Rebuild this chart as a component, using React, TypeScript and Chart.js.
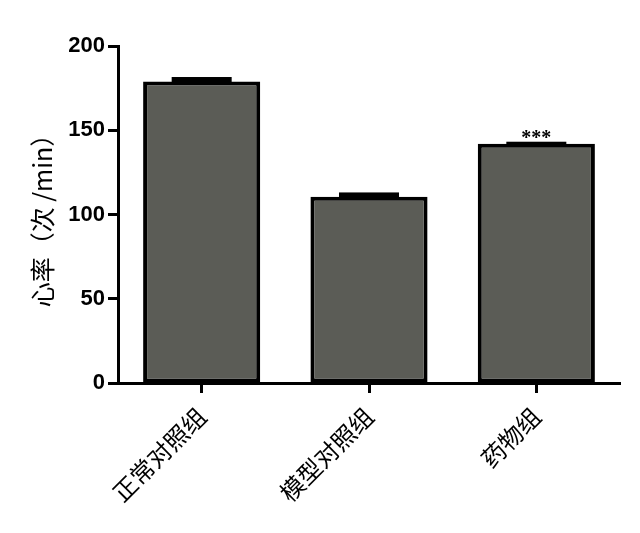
import React, { useEffect, useRef } from "react";
import { Chart, registerables } from "chart.js";

Chart.register(...registerables);

const categories = ["正常对照组", "模型对照组", "药物组"];
const heartRate = [179, 110.5, 142];
const errors = [2, 2, 0.6];
const marks = ["", "", "***"];
const yTicks = [0, 50, 100, 150, 200];

const errorBarPlugin = {
  id: "errorBars",
  afterDatasetsDraw(chart: any) {
    const ctx = chart.ctx;
    const meta = chart.getDatasetMeta(0);
    const yScale = chart.scales.y;
    ctx.save();
    meta.data.forEach((bar: any, i: number) => {
      const v = heartRate[i];
      const e = errors[i];
      const x = bar.x;
      const y0 = yScale.getPixelForValue(v);
      const y1 = yScale.getPixelForValue(v + e);
      ctx.fillStyle = "#000";
      ctx.fillRect(x - 30, y1 - 1, 60, y0 - y1 + 3);
      if (marks[i]) {
        ctx.fillStyle = "#000";
        ctx.font = "bold 20px 'Liberation Serif'";
        ctx.textAlign = "center";
        ctx.textBaseline = "alphabetic";
        ctx.fillText(marks[i], x, y1 + 1);
      }
    });
    ctx.restore();
  },
};

export default function App() {
  const ref = useRef<HTMLCanvasElement | null>(null);
  useEffect(() => {
    if (!ref.current) return;
    const chart = new Chart(ref.current, {
      type: "bar",
      data: {
        labels: categories,
        datasets: [
          {
            data: heartRate,
            backgroundColor: "#5b5c56",
            borderColor: "#000",
            borderWidth: 4,
            borderSkipped: false,
            barPercentage: 0.7,
            categoryPercentage: 1,
          },
        ],
      },
      options: {
        responsive: false,
        animation: false,
        layout: { padding: { top: 46, right: 20, left: 0, bottom: 0 } },
        plugins: { legend: { display: false }, tooltip: { enabled: false } },
        scales: {
          x: {
            offset: true,
            grid: {
              display: true,
              offset: false,
              drawOnChartArea: false,
              drawTicks: true,
              tickLength: 10,
              tickWidth: 3,
              tickColor: "#000",
            },
            border: { display: true, width: 3, color: "#000" },
            ticks: {
              minRotation: 45,
              maxRotation: 45,
              color: "#000",
              padding: 9,
              font: { family: "'Noto Sans CJK SC'", size: 24 },
            },
            afterFit: (s: any) => {
              s.height = 150;
            },
          },
          y: {
            min: 0,
            max: 200,
            afterBuildTicks: (s: any) => {
              s.ticks = yTicks.map((v) => ({ value: v }));
            },
            grid: {
              display: true,
              drawOnChartArea: false,
              drawTicks: true,
              tickLength: 10,
              tickWidth: 3,
              tickColor: "#000",
            },
            border: { display: true, width: 3, color: "#000" },
            ticks: {
              color: "#000",
              padding: 3,
              font: { family: "'Liberation Sans'", size: 22, weight: "bold" },
            },
            title: {
              display: true,
              text: "心率（次 /min）",
              color: "#000",
              padding: { top: 27, bottom: 0 },
              font: { family: "'Noto Sans CJK SC'", size: 25 },
            },
            afterFit: (s: any) => {
              s.width = 118;
            },
          },
        },
      },
      plugins: [errorBarPlugin],
    } as any);
    return () => chart.destroy();
  }, []);
  return (
    <div style={{ position: "fixed", left: 0, top: 0, width: 640, height: 533, background: "#fff" }}>
      <canvas ref={ref} width={640} height={533} />
    </div>
  );
}
